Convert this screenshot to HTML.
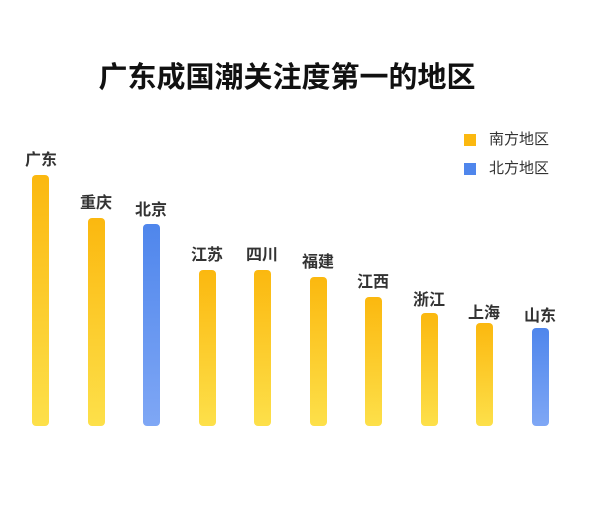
<!DOCTYPE html>
<html><head><meta charset="utf-8"><style>
body{margin:0;width:600px;height:508px;background:#fff;overflow:hidden;font-family:"Liberation Sans","Noto Sans CJK SC",sans-serif;}
.t{position:absolute;left:0;width:574px;top:54px;text-align:center;font-size:29px;font-weight:bold;color:#111;}
.b{position:absolute;width:17px;border-radius:4px;bottom:82px;}
.y{background:linear-gradient(#fbb80f,#fde04a);}
.u{background:linear-gradient(#4f86ec,#7fa7f5);}
.l{position:absolute;width:60px;text-align:center;font-size:16px;font-weight:bold;color:#333;}
.lg{position:absolute;left:464px;width:12px;height:12px;}
.lt{position:absolute;left:489px;font-size:15px;color:#333;}
</style></head><body>
<div class="t">广东成国潮关注度第一的地区</div>
<div class="lg" style="top:134px;background:#fbb80f"></div><div class="lt" style="top:128px">南方地区</div>
<div class="lg" style="top:163px;background:#4f86ec"></div><div class="lt" style="top:157px">北方地区</div>

<div class="b y" style="left:32px;top:175px"></div><div class="l" style="left:11px;top:146px">广东</div>
<div class="b y" style="left:88px;top:218px"></div><div class="l" style="left:66px;top:189px">重庆</div>
<div class="b u" style="left:143px;top:224px"></div><div class="l" style="left:121px;top:196px">北京</div>
<div class="b y" style="left:199px;top:270px"></div><div class="l" style="left:177px;top:241px">江苏</div>
<div class="b y" style="left:254px;top:270px"></div><div class="l" style="left:232px;top:241px">四川</div>
<div class="b y" style="left:310px;top:277px"></div><div class="l" style="left:288px;top:248px">福建</div>
<div class="b y" style="left:365px;top:297px"></div><div class="l" style="left:343px;top:268px">江西</div>
<div class="b y" style="left:421px;top:313px"></div><div class="l" style="left:399px;top:286px">浙江</div>
<div class="b y" style="left:476px;top:323px"></div><div class="l" style="left:454px;top:299px">上海</div>
<div class="b u" style="left:532px;top:328px"></div><div class="l" style="left:510px;top:302px">山东</div>
</body></html>
